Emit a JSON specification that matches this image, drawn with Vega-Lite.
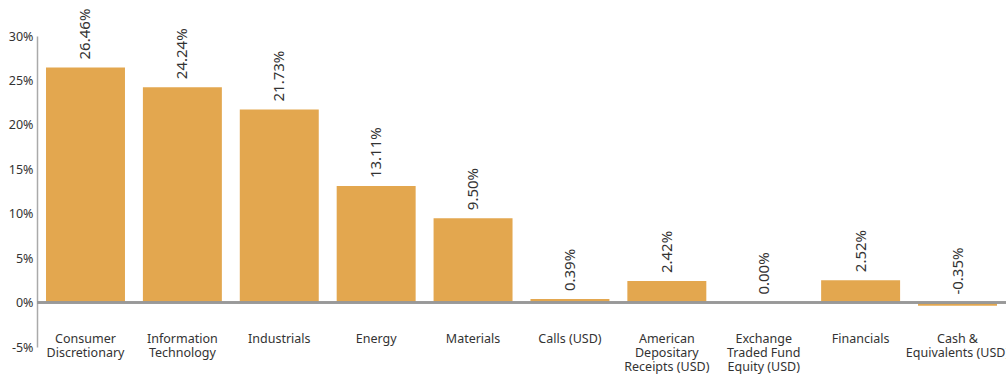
{
  "$schema": "https://vega.github.io/schema/vega-lite/v6.json",
  "autosize": "none",
  "width": 969,
  "height": 311,
  "padding": {"left": 37, "top": 36, "right": 0, "bottom": 28},
  "background": "white",
  "config": {"view": {"stroke": null}, "font": "Noto Sans"},
  "data": {"values": [
    {"sector": "Consumer Discretionary", "value": 26.46},
    {"sector": "Information Technology", "value": 24.24},
    {"sector": "Industrials", "value": 21.73},
    {"sector": "Energy", "value": 13.11},
    {"sector": "Materials", "value": 9.50},
    {"sector": "Calls (USD)", "value": 0.39},
    {"sector": "American Depositary Receipts (USD)", "value": 2.42},
    {"sector": "Exchange Traded Fund Equity (USD)", "value": 0.00},
    {"sector": "Financials", "value": 2.52},
    {"sector": "Cash & Equivalents (USD)", "value": -0.35}
  ]},
  "encoding": {
    "x": {"field": "sector", "type": "nominal", "sort": null,
      "scale": {"paddingInner": 0.185, "paddingOuter": 0.093},
      "axis": {"title": null, "domain": false, "ticks": false, "labelAngle": 0,
        "labelPadding": -15, "labelFontSize": 12.5, "labelColor": "#333", "labelLineHeight": 14,
        "labelFont": "Noto Sans",
        "labelExpr": "datum.label == 'Consumer Discretionary' ? ['Consumer','Discretionary'] : datum.label == 'Information Technology' ? ['Information','Technology'] : datum.label == 'American Depositary Receipts (USD)' ? ['American','Depositary','Receipts (USD)'] : datum.label == 'Exchange Traded Fund Equity (USD)' ? ['Exchange','Traded Fund','Equity (USD)'] : datum.label == 'Cash & Equivalents (USD)' ? ['Cash &','Equivalents (USD)'] : datum.label"}}
  },
  "layer": [
    {"mark": {"type": "bar", "color": "#E3A74F"},
     "encoding": {
       "y": {"field": "value", "type": "quantitative",
         "scale": {"domain": [-5, 30], "nice": false, "zero": false},
         "axis": {"title": null, "grid": false, "ticks": false, "values": [-5, 0, 5, 10, 15, 20, 25, 30],
           "labelExpr": "datum.value + '%'", "labelFontSize": 12.5, "labelColor": "#333",
           "labelPadding": 4, "domainColor": "#aaa", "domainWidth": 1.5}}
     }},
    {"mark": {"type": "rule", "color": "#999", "strokeWidth": 1.5},
     "encoding": {"y": {"datum": 0, "type": "quantitative"}, "x": {"value": 0}, "x2": {"value": 969}}},
    {"transform": [
       {"calculate": "max(datum.value, 0)", "as": "labelPos"},
       {"calculate": "(datum.value < 0 ? '-' : '') + format(abs(datum.value), '.2f') + '%'", "as": "label"}
     ],
     "mark": {"type": "text", "angle": 270, "align": "left", "baseline": "middle", "dx": 8, "fontSize": 15, "color": "#333"},
     "encoding": {
       "y": {"field": "labelPos", "type": "quantitative"},
       "text": {"field": "label", "type": "nominal"}
     }}
  ]
}
